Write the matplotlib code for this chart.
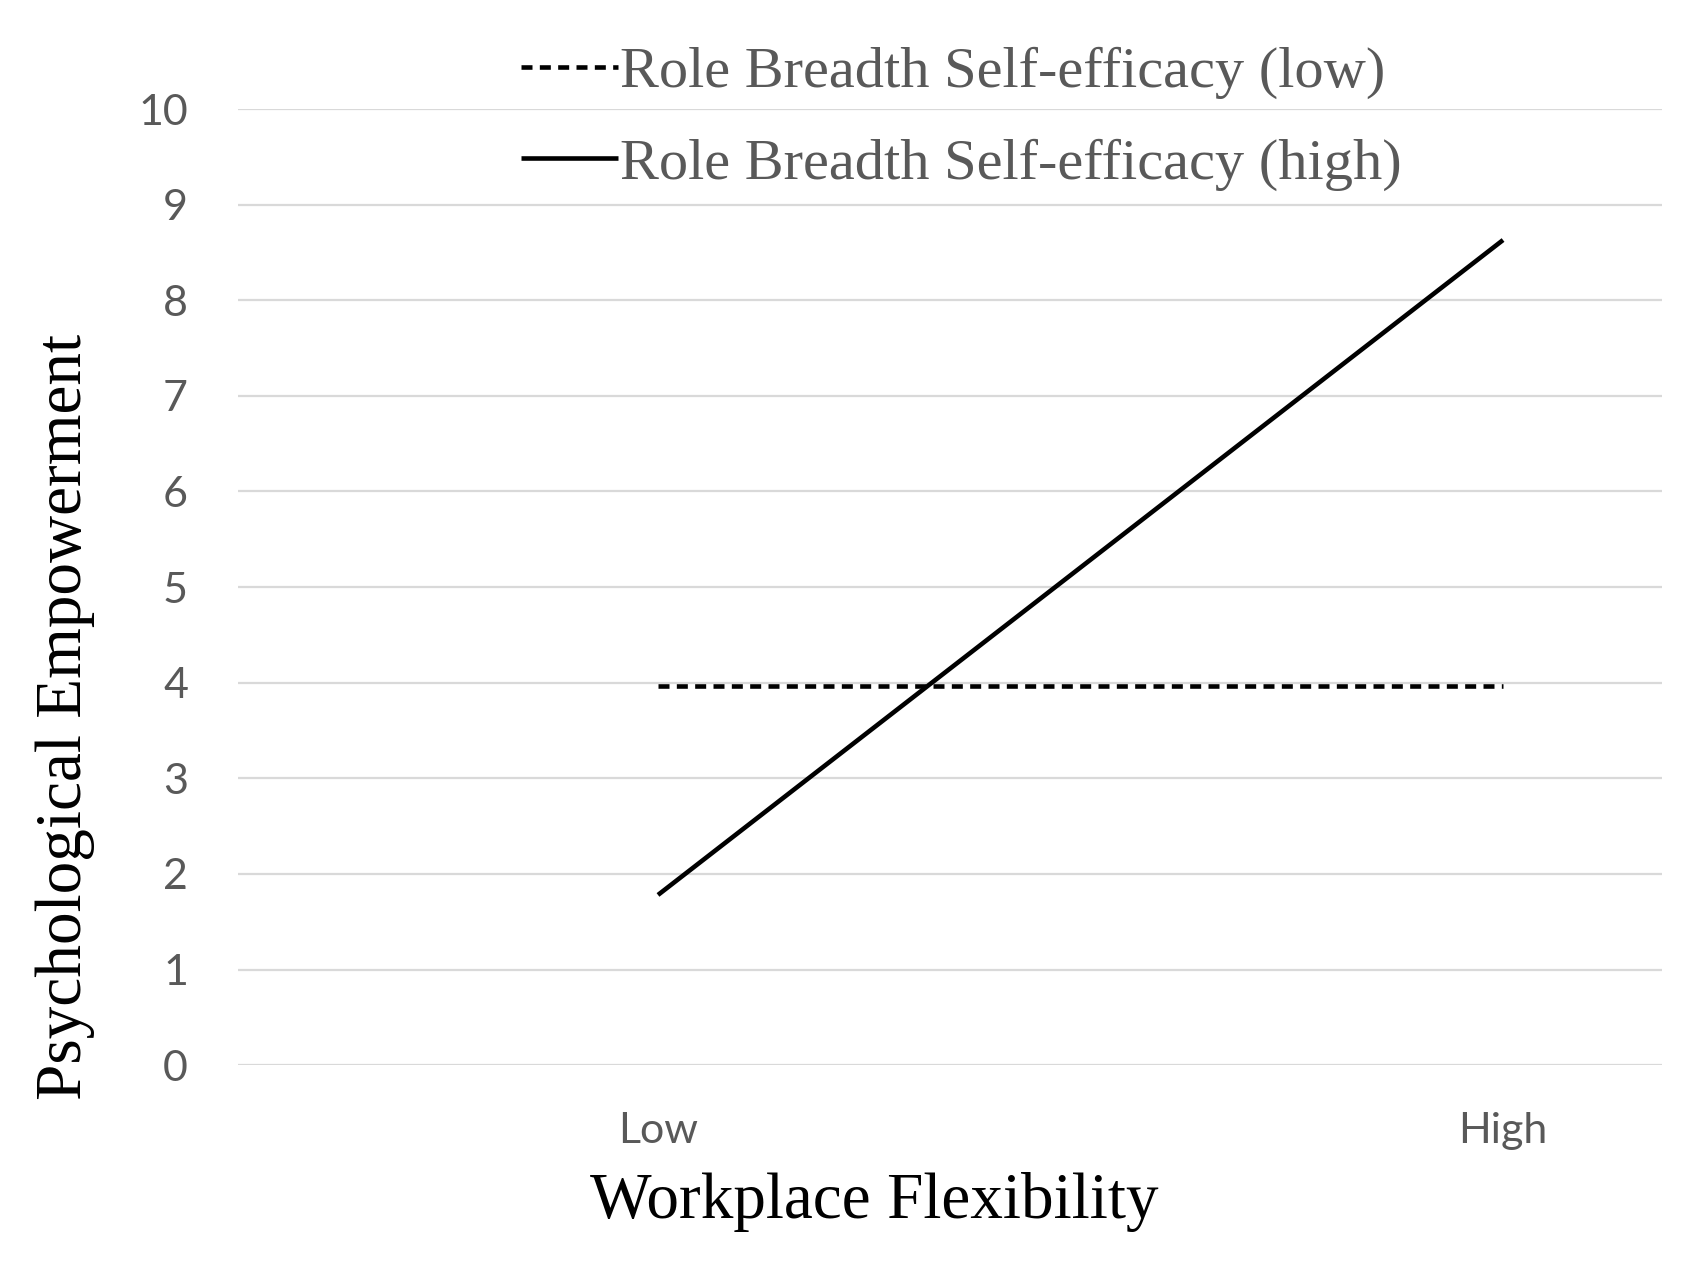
import matplotlib.pyplot as plt
import numpy as np

# Datos
categories = ['Low', 'High']
rbse_low = [3.97, 3.97]
rbse_high = [1.78, 8.63]
y_ticks = list(range(0, 11))

color_tick = '#595959'
color_grid = '#d9d9d9'
serif = ['Liberation Serif', 'DejaVu Serif']
sans = ['Lato', 'DejaVu Sans']

fig = plt.figure(figsize=(17, 12.62), dpi=100)
fig.patch.set_facecolor('white')
ax = fig.add_axes([238 / 1700, 0.156, 0.8376, 0.7576])

x = np.arange(len(categories))
ax.plot(x, rbse_low, color='black', linewidth=3.3, linestyle=(0, (2.4, 1.6)),
        label='Role Breadth Self-efficacy (low)')
ax.plot(x, rbse_high, color='black', linewidth=3.3, linestyle='-',
        solid_capstyle='butt', label='Role Breadth Self-efficacy (high)')

ax.set_xlim(-0.497, 1.188)
ax.set_ylim(0, 10)
ax.set_yticks(y_ticks)
ax.set_xticks(x)
ax.set_xticklabels(categories)
ax.yaxis.grid(True, color=color_grid, linewidth=1.6)
ax.set_axisbelow(True)
for s in ax.spines.values():
    s.set_visible(False)
ax.tick_params(axis='both', length=0, labelcolor=color_tick, labelsize=31)
ax.tick_params(axis='y', pad=36)
ax.tick_params(axis='x', pad=34)
for lbl in ax.get_xticklabels() + ax.get_yticklabels():
    lbl.set_family(sans)

# Títulos de ejes
fig.text(874 / 1700, 1 - 1202 / 1262, 'Workplace Flexibility', family=serif,
         fontsize=47, ha='center', va='center', color='black')
fig.text(65 / 1700, 1 - 717 / 1262, 'Psychological Empowerment', family=serif,
         fontsize=47, rotation=90, ha='center', va='center', color='black')

# Leyenda
leg = ax.legend(loc='upper left', bbox_to_anchor=(498 / 1700, 1 - 23 / 1262),
                bbox_transform=fig.transFigure, frameon=False,
                prop={'family': serif, 'size': 42}, handlelength=1.65,
                handletextpad=0.05, labelspacing=0.66, borderaxespad=0)
for t in leg.get_texts():
    t.set_color(color_tick)

fig.savefig('out.png', dpi=100, facecolor='white')
